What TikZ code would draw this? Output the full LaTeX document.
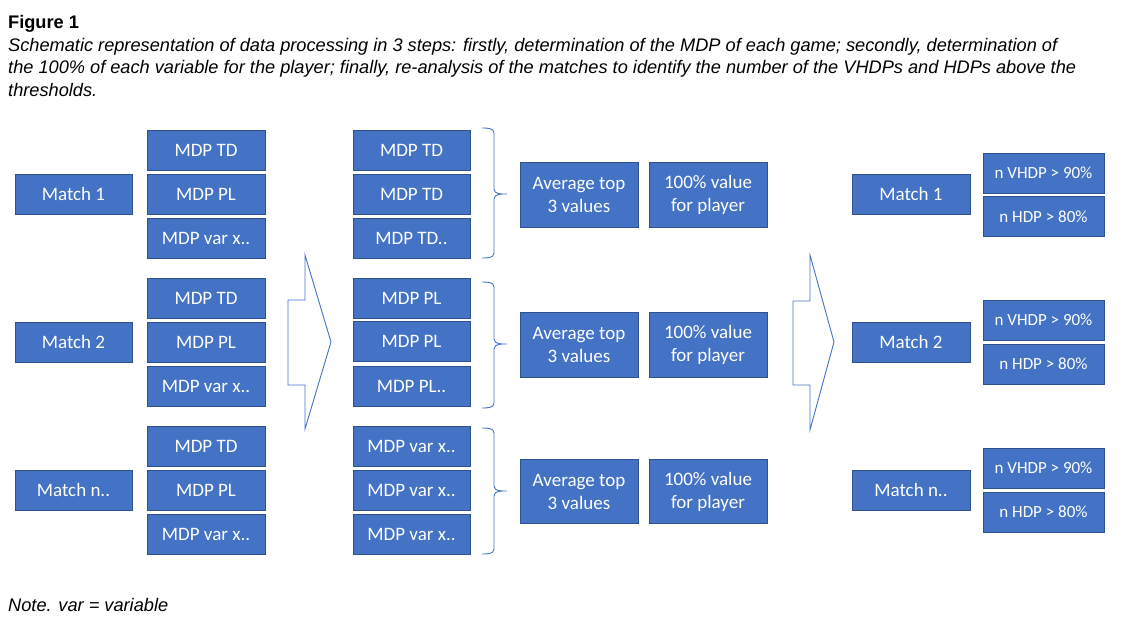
\documentclass[tikz,border=0pt]{standalone}
\usepackage{fontspec}
\setmainfont{Liberation Sans}
\newfontfamily\boxfont{Carlito}
\definecolor{boxblue}{HTML}{4472C4}
\definecolor{boxedge}{HTML}{2F528F}
\definecolor{lineblue}{HTML}{4472C4}
\begin{document}
\begin{tikzpicture}[x=1pt,y=-1pt,
  box/.style={draw=boxedge, line width=0.8pt, fill=boxblue, text=white, inner sep=0pt,
    font=\boxfont\fontsize{19}{23}\selectfont, align=center, minimum height=40pt},
  wbox/.style={box, minimum width=118pt},
  sbox/.style={box, minimum width=121pt, font=\boxfont\fontsize{17}{20}\selectfont},
  tbox/.style={box, minimum width=118pt, minimum height=65pt},
  caption/.style={anchor=base west, inner sep=0pt, font=\fontsize{18.2}{22}\selectfont\itshape},
  hollow/.style={draw=lineblue, line width=0.9pt, line join=miter},
  brace/.style={draw=lineblue, line width=0.9pt}]
\useasboundingbox (0,0) rectangle (1128,626);

% captions
\node[anchor=base west, inner sep=0pt, font=\fontsize{18.2}{22}\selectfont\bfseries] (fig) at (8,29) {Figure 1};
\node[caption] (cap1) at (8,52) {Schematic representation of data processing in 3 steps: firstly, determination of the MDP of each game; secondly, determination of};
\node[caption] (cap2) at (8,74) {the 100\% of each variable for the player; finally, re-analysis of the matches to identify the number of the VHDPs and HDPs above the};
\node[caption] (cap3) at (8,96) {thresholds.};
\node[caption] (note) at (8,611) {Note. var = variable};

% column 1
\node[wbox, minimum width=117pt] (ma) at (73.5,194) {Match 1};
\node[wbox, minimum width=117pt] (mb) at (73.5,342) {Match 2};
\node[wbox, minimum width=117pt] (mc) at (73.5,490) {Match n..};

% column 2
\node[wbox] (a1) at (206,150) {MDP TD};
\node[wbox] (a2) at (206,194) {MDP PL};
\node[wbox] (a3) at (206,238) {MDP var x..};
\node[wbox] (b1) at (206,298) {MDP TD};
\node[wbox] (b2) at (206,342) {MDP PL};
\node[wbox] (b3) at (206,386) {MDP var x..};
\node[wbox] (c1) at (206,446) {MDP TD};
\node[wbox] (c2) at (206,490) {MDP PL};
\node[wbox] (c3) at (206,534) {MDP var x..};

% big arrow 1
\draw[hollow] (288,300) -- (305,300) -- (305,255) -- (331,342) -- (305,429) -- (305,385) -- (288,385) -- cycle;

% column 3
\node[wbox, minimum width=117pt] (d1) at (411.5,150) {MDP TD};
\node[wbox, minimum width=117pt] (d2) at (411.5,194) {MDP TD};
\node[wbox, minimum width=117pt] (d3) at (411.5,238) {MDP TD..};
\node[wbox, minimum width=117pt] (e1) at (411.5,298) {MDP PL};
\node[wbox, minimum width=117pt] (e2) at (411.5,341) {MDP PL};
\node[wbox, minimum width=117pt] (e3) at (411.5,386) {MDP PL..};
\node[wbox, minimum width=117pt] (f1) at (411.5,446) {MDP var x..};
\node[wbox, minimum width=117pt] (f2) at (411.5,490) {MDP var x..};
\node[wbox, minimum width=117pt] (f3) at (411.5,534) {MDP var x..};

% braces
\foreach \t/\m/\b in {128/194/258, 282/344/408, 428/491/554}{
  \draw[brace] (482,\t) to[out=0,in=90] (494,\t+5) -- (494,\m-5)
     to[out=270,in=180] (507,\m) to[out=180,in=90] (494,\m+5) -- (494,\b-5)
     to[out=270,in=0] (482,\b);
}

% average and 100%
\node[tbox] (g1) at (579,194.5) {Average top\\3 values};
\node[tbox] (h1) at (708,194.5) {100\% value\\for player};
\node[tbox] (g2) at (579,344.5) {Average top\\3 values};
\node[tbox] (h2) at (708,344.5) {100\% value\\for player};
\node[tbox, minimum height=64pt] (g3) at (579,491.5) {Average top\\3 values};
\node[tbox, minimum height=64pt] (h3) at (708,491.5) {100\% value\\for player};

% big arrow 2
\draw[hollow] (793,301) -- (810,301) -- (810,255) -- (834,342) -- (810,430) -- (810,385) -- (793,385) -- cycle;

% right column
\node[wbox] (ra) at (911,194) {Match 1};
\node[wbox] (rb) at (911,342) {Match 2};
\node[wbox] (rc) at (911,490) {Match n..};

\node[sbox] (v1) at (1043.5,173) {n VHDP > 90\%};
\node[sbox] (w1) at (1043.5,216.5) {n HDP > 80\%};
\node[sbox] (v2) at (1043.5,320) {n VHDP > 90\%};
\node[sbox] (w2) at (1043.5,364) {n HDP > 80\%};
\node[sbox] (v3) at (1043.5,468) {n VHDP > 90\%};
\node[sbox] (w3) at (1043.5,512) {n HDP > 80\%};
\end{tikzpicture}
\end{document}
